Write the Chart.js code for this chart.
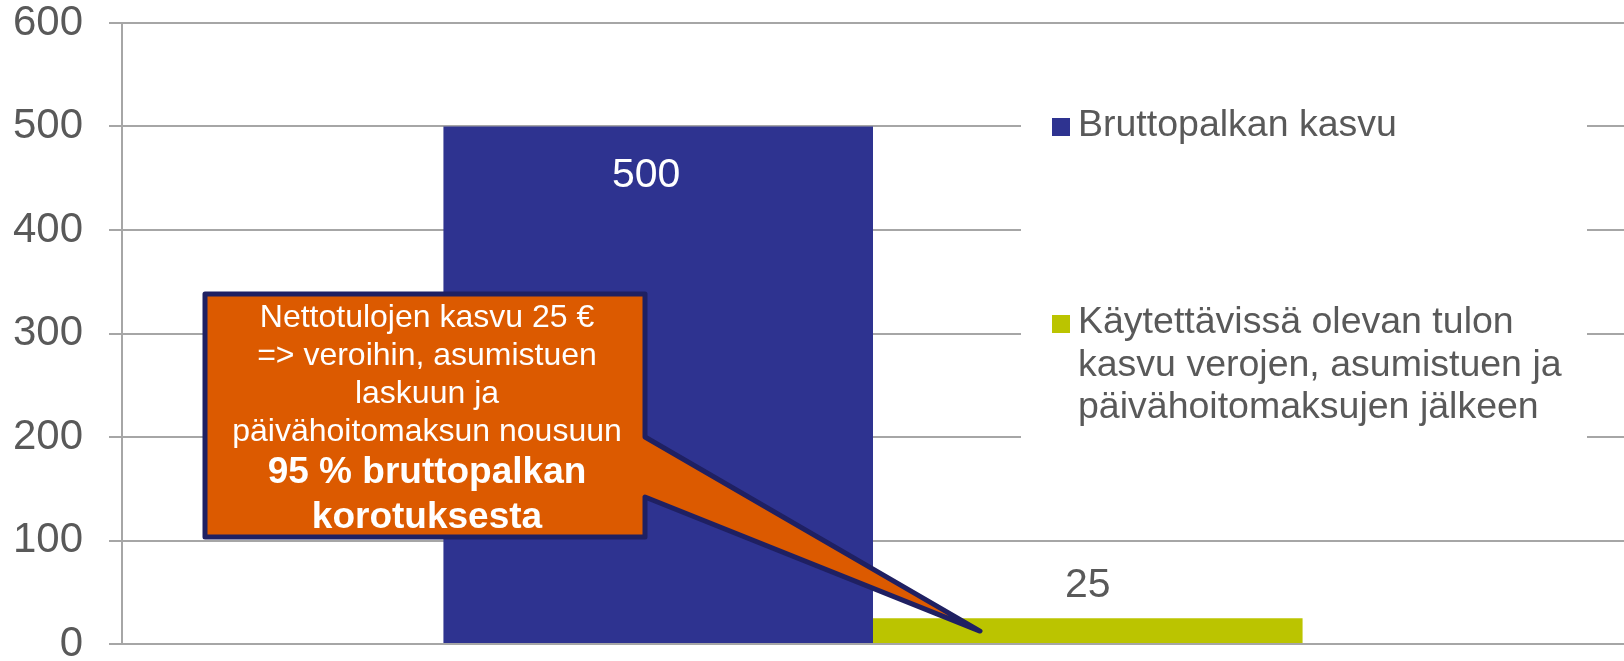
<!DOCTYPE html>
<html>
<head>
<meta charset="utf-8">
<script src="https://cdn.jsdelivr.net/npm/chart.js@4.4.1/dist/chart.umd.min.js"></script>
<style>
html, body { margin: 0; padding: 0; background: #fff; }
#wrap { width: 1624px; height: 661px; position: relative; }
</style>
</head>
<body>
<div id="wrap"><canvas id="myChart"></canvas></div>
<script>
// data
var categories = [''];
var seriesNames = ['Bruttopalkan kasvu', 'Käytettävissä olevan tulon kasvu verojen, asumistuen ja päivähoitomaksujen jälkeen'];
var legendLines = [
    ['Bruttopalkan kasvu'],
    ['Käytettävissä olevan tulon', 'kasvu verojen, asumistuen ja', 'päivähoitomaksujen jälkeen']
];
var grossRise = [500];
var netRise = [25];
var yTicks = [0, 100, 200, 300, 400, 500, 600];
var calloutText = ['Nettotulojen kasvu 25 €', '=> veroihin, asumistuen', 'laskuun ja', 'päivähoitomaksun nousuun'];
var calloutBold = ['95 % bruttopalkan', 'korotuksesta'];

var FONT = "'Liberation Sans', Arial, sans-serif";
var GREY = '#595959';
var GRID = '#A6A6A6';
var BLUE = '#2E3390';
var GREEN = '#BBC400';

var overlay = {
    id: 'overlay',
    afterDatasetsDraw: function (chart) {
        var ctx = chart.ctx;
        var y = chart.scales.y;
        var b0 = chart.getDatasetMeta(0).data[0];
        var b1 = chart.getDatasetMeta(1).data[0];

        ctx.save();
        // value labels
        ctx.font = '41px ' + FONT;
        ctx.textAlign = 'center';
        ctx.textBaseline = 'alphabetic';
        ctx.fillStyle = '#FFFFFF';
        ctx.fillText(String(grossRise[0]), b0.x - 12, b0.y + 60);
        ctx.fillStyle = GREY;
        ctx.fillText(String(netRise[0]), b1.x, b1.y - 21);

        // legend on a white box over the grid
        ctx.fillStyle = '#FFFFFF';
        ctx.fillRect(1021, 95, 566, 360);
        var colors = [BLUE, GREEN];
        var starts = [136, 333];
        ctx.textAlign = 'left';
        ctx.font = '37.5px ' + FONT;
        for (var i = 0; i < legendLines.length; i++) {
            ctx.fillStyle = colors[i];
            ctx.fillRect(1052, starts[i] - 18, 18, 18);
            ctx.fillStyle = GREY;
            for (var j = 0; j < legendLines[i].length; j++) {
                ctx.fillText(legendLines[i][j], 1078, starts[i] + j * 42.5);
            }
        }

        // callout pointing at the green bar
        var tipX = b1.x - b1.width / 2 + 107;
        var tipY = y.getPixelForValue(12.5);
        var L = 205, R = 645, T = 294, B = 537;
        ctx.beginPath();
        ctx.moveTo(L, T);
        ctx.lineTo(R, T);
        ctx.lineTo(R, y.getPixelForValue(200));
        ctx.lineTo(tipX, tipY);
        ctx.lineTo(R, y.getPixelForValue(142));
        ctx.lineTo(R, B);
        ctx.lineTo(L, B);
        ctx.closePath();
        ctx.fillStyle = '#DC5A00';
        ctx.fill();
        ctx.lineWidth = 5;
        ctx.lineJoin = 'round';
        ctx.strokeStyle = '#1F2062';
        ctx.stroke();

        ctx.fillStyle = '#FFFFFF';
        ctx.textAlign = 'center';
        var cx = 427;
        ctx.font = '32px ' + FONT;
        for (var k = 0; k < calloutText.length; k++) {
            ctx.fillText(calloutText[k], cx, 327 + k * 38);
        }
        ctx.font = 'bold 37px ' + FONT;
        for (var m = 0; m < calloutBold.length; m++) {
            ctx.fillText(calloutBold[m], cx, 483 + m * 45);
        }
        ctx.restore();
    }
};

var ctx = document.getElementById('myChart');
var myChart = new Chart(ctx, {
    type: 'bar',
    data: {
        labels: categories,
        datasets: [{
            label: seriesNames[0],
            data: grossRise,
            backgroundColor: BLUE,
            barPercentage: 1,
            categoryPercentage: 0.572
        }, {
            label: seriesNames[1],
            data: netRise,
            backgroundColor: GREEN,
            barPercentage: 1,
            categoryPercentage: 0.572
        }]
    },
    options: {
        responsive: true,
        maintainAspectRatio: false,
        animation: false,
        layout: {
            padding: { left: 0, top: 23, right: 0, bottom: 17 }
        },
        plugins: {
            legend: { display: false },
            tooltip: { enabled: false }
        },
        scales: {
            x: { display: false },
            y: {
                min: yTicks[0],
                max: yTicks[yTicks.length - 1],
                afterBuildTicks: function (scale) {
                    scale.ticks = yTicks.map(function (v) { return { value: v }; });
                },
                afterFit: function (scale) {
                    scale.width = 122;
                    scale.paddingTop = 0;
                    scale.paddingBottom = 0;
                },
                grid: { color: GRID, lineWidth: 2, tickLength: 13, drawTicks: true },
                border: { display: true, color: GRID, width: 2 },
                ticks: {
                    color: GREY,
                    padding: 26,
                    font: { family: FONT, size: 42 }
                }
            }
        }
    },
    plugins: [overlay]
});
</script>
</body>
</html>
